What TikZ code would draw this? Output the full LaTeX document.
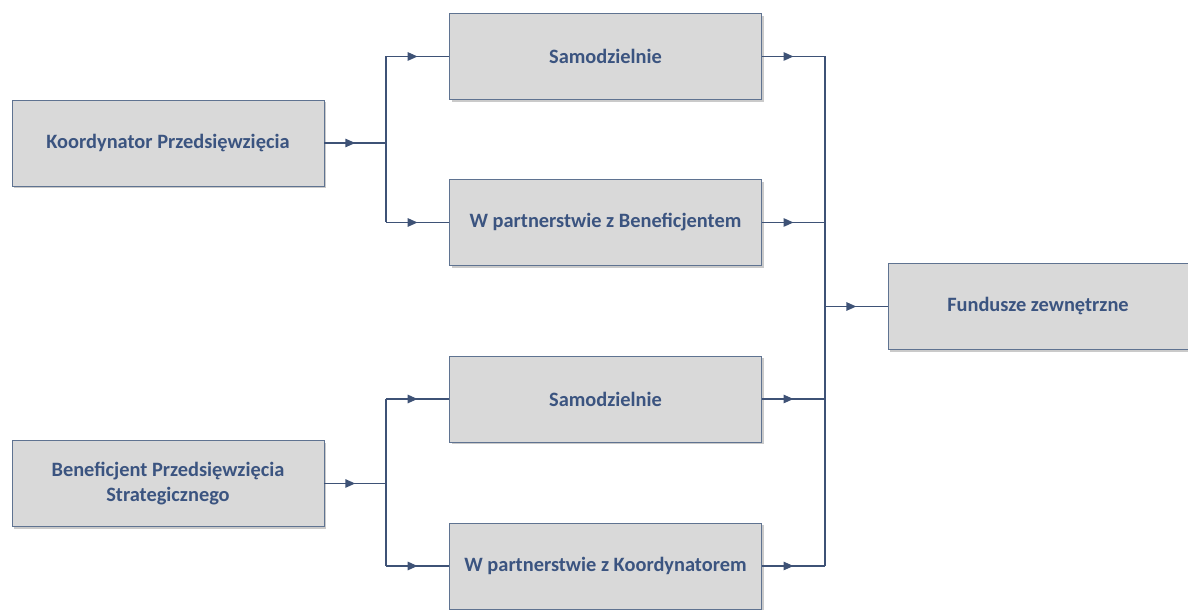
\documentclass[tikz,border=0pt]{standalone}
\usepackage{fontspec}
\setmainfont{Carlito}
\usetikzlibrary{positioning, arrows.meta, decorations.markings, shadows}

\definecolor{boxfill}{RGB}{217,217,217}
\definecolor{boxline}{RGB}{95,115,145}
\definecolor{boxtext}{RGB}{59,84,128}
\definecolor{linkcol}{RGB}{62,82,118}

\begin{document}
\begin{tikzpicture}[
    stagebox/.style={draw=boxline, line width=0.6pt, fill=boxfill, minimum width=7.8cm, minimum height=2.15cm,
        align=center, text=boxtext, font=\bfseries\fontsize{14.5}{17.5}\selectfont,
        drop shadow={shadow xshift=1.5pt, shadow yshift=-1.5pt, opacity=0.35, fill=black!60}},
    bus/.style={draw=linkcol, line width=0.9pt},
    midarr/.style={bus, postaction={decorate}, decoration={markings,
        mark=at position 0.5 with {\arrow{Triangle[length=7pt, width=6pt]}}}}
]
    \useasboundingbox (0,0) rectangle (29.7,15.25);
    % left column
    \node[stagebox] (kp) at (4.2,11.675) {Koordynator Przedsięwzięcia};
    \node[stagebox] (bp) at (4.2,3.1625) {Beneficjent Przedsięwzięcia\\Strategicznego};
    % middle column
    \node[stagebox] (s1) at (15.1375,13.8375) {Samodzielnie};
    \node[stagebox] (wb) at (15.1375,9.6875) {W partnerstwie z Beneficjentem};
    \node[stagebox] (s2) at (15.1375,5.275) {Samodzielnie};
    \node[stagebox] (wk) at (15.1375,1.1) {W partnerstwie z Koordynatorem};
    % right
    \node[stagebox, minimum width=7.5cm] (fz) at (25.95,7.5875) {Fundusze zewnętrzne};

    % junctions
    \coordinate (ja) at (9.65,11.675);
    \coordinate (jb) at (9.65,3.1625);
    \coordinate (rb) at (20.625,7.5875);

    % upper split
    \draw[midarr] (kp.east) -- (ja);
    \draw[bus] (s1.west -| ja) -- (wb.west -| ja);
    \draw[midarr] (s1.west -| ja) -- (s1.west);
    \draw[midarr] (wb.west -| ja) -- (wb.west);
    % lower split
    \draw[midarr] (bp.east) -- (jb);
    \draw[bus] (s2.west -| jb) -- (wk.west -| jb);
    \draw[midarr] (s2.west -| jb) -- (s2.west);
    \draw[midarr] (wk.west -| jb) -- (wk.west);
    % merge
    \draw[bus] (s1.east -| rb) -- (wk.east -| rb);
    \foreach \n in {s1, wb, s2, wk}
        \draw[midarr] (\n.east) -- (\n.east -| rb);
    \draw[midarr] (rb) -- (fz.west);
\end{tikzpicture}
\end{document}
